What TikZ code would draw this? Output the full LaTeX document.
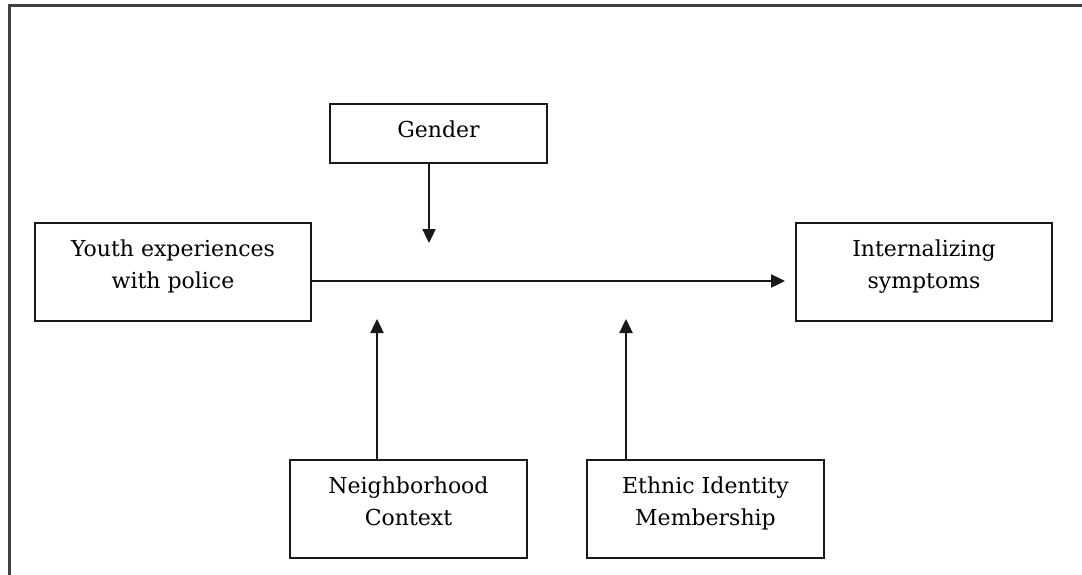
\documentclass[tikz,border=0pt]{standalone}
\usepackage{fontspec}
\setmainfont{DejaVu Serif}
\usetikzlibrary{arrows.meta}
\begin{document}
\begin{tikzpicture}[x=1pt,y=-1pt,
  box/.style={draw=black!90,line width=2.8pt,inner sep=0pt},
  lbl/.style={font=\fontsize{22}{32}\selectfont,align=center,text=black},
  arr/.style={line width=2.4pt,draw=black!90,-{Triangle[length=14pt,width=13pt]}},
  frame/.style={draw=black!75,line width=3pt}]
\useasboundingbox (0,0) rectangle (1082,575);
\draw[frame] (9,575) -- (9,6) -- (1082,6);
% boxes
\node[box,minimum width=217pt,minimum height=59pt] (gender) at (438.5,133.5) {};
\node[box,minimum width=276pt,minimum height=98pt] (youth) at (173,272) {};
\node[box,minimum width=256pt,minimum height=98pt] (intern) at (924,272) {};
\node[box,minimum width=237pt,minimum height=98pt] (neigh) at (408.5,509) {};
\node[box,minimum width=237pt,minimum height=98pt] (ethnic) at (705.5,509) {};
% texts
\node[lbl] (genderT) at (438.5,131) {\strut Gender};
\node[lbl] (youthT) at (173,266) {\strut Youth experiences\\\strut with police};
\node[lbl] (internT) at (924,266) {\strut Internalizing\\\strut symptoms};
\node[lbl] (neighT) at (408.5,503) {\strut Neighborhood\\\strut Context};
\node[lbl] (ethnicT) at (705.5,503) {\strut Ethnic Identity\\\strut Membership};
% connector targets
\coordinate (mainEnd) at (785,281);
\coordinate (gTip) at (429,243);
\coordinate (nTip) at (377,319);
\coordinate (eTip) at (626,319);
\draw[arr] (youth.east |- 0,281) -- (mainEnd);
\draw[arr] (gTip |- gender.south) -- (gTip);
\draw[arr] (nTip |- neigh.north) -- (nTip);
\draw[arr] (eTip |- ethnic.north) -- (eTip);
\end{tikzpicture}
\end{document}
